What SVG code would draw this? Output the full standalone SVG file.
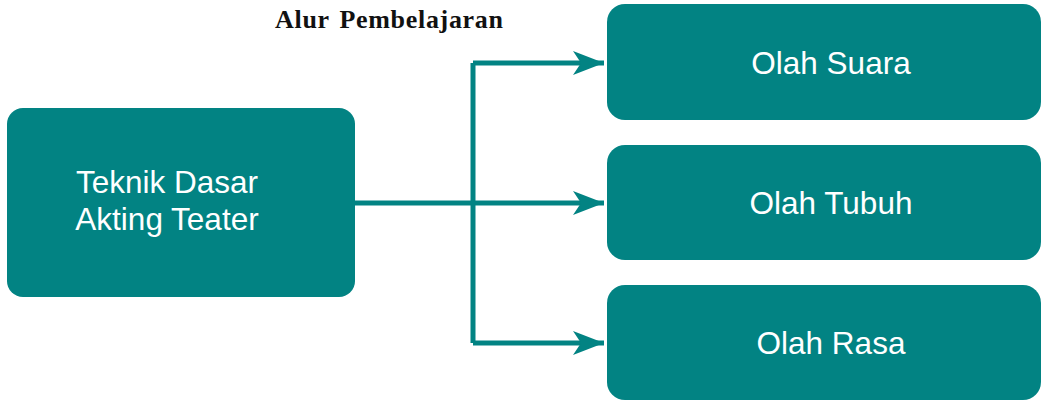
<svg xmlns="http://www.w3.org/2000/svg" width="1041" height="402" viewBox="0 0 1041 402">
<style>
.box{fill:#028383}
.lbl{font-family:"Liberation Sans",Arial,sans-serif;font-size:31.5px;fill:#ffffff}
.conn{fill:none;stroke:#028383;stroke-width:5;stroke-linejoin:round}
.title{font-family:"Liberation Serif","Times New Roman",serif;font-size:26px;font-weight:bold;fill:#111;word-spacing:3px}
</style>
<defs>
<marker id="arr" markerUnits="userSpaceOnUse" markerWidth="34" markerHeight="28" refX="31" refY="13" orient="auto">
<path d="M0,1 L31,13 L0,25 L8,13 Z" fill="#028383"/>
</marker>
</defs>
<text class="title" x="275" y="28" textLength="228" lengthAdjust="spacing">Alur Pembelajaran</text>
<g id="connectors">
<path class="conn" d="M355,203 H473"/>
<path class="conn" d="M473,63 V343"/>
<path class="conn" d="M473,63 H604" marker-end="url(#arr)"/>
<path class="conn" d="M473,203 H604" marker-end="url(#arr)"/>
<path class="conn" d="M473,343 H604" marker-end="url(#arr)"/>
</g>
<g id="node-teknik">
<rect class="box" x="7" y="108" width="348" height="189" rx="16"/>
<text class="lbl" x="167" y="193" text-anchor="middle">Teknik Dasar</text>
<text class="lbl" x="167" y="230" text-anchor="middle">Akting Teater</text>
</g>
<g id="node-suara">
<rect class="box" x="607" y="4" width="434" height="116" rx="18"/>
<text class="lbl" x="831" y="74" text-anchor="middle">Olah Suara</text>
</g>
<g id="node-tubuh">
<rect class="box" x="607" y="145" width="434" height="115" rx="18"/>
<text class="lbl" x="831" y="214" text-anchor="middle">Olah Tubuh</text>
</g>
<g id="node-rasa">
<rect class="box" x="607" y="285" width="434" height="115" rx="18"/>
<text class="lbl" x="831" y="354" text-anchor="middle">Olah Rasa</text>
</g>
</svg>
